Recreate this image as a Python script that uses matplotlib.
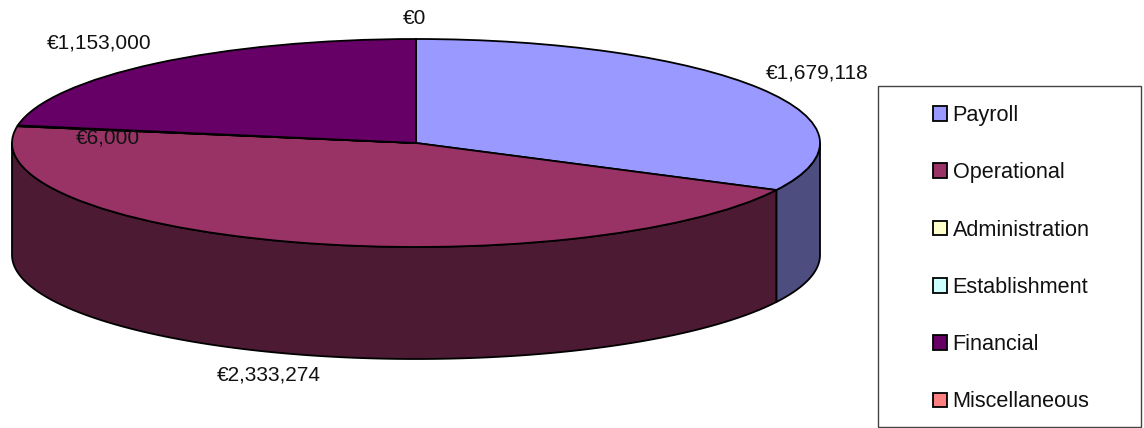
import numpy as np
import matplotlib
matplotlib.use('Agg')
import matplotlib.pyplot as plt
from matplotlib.patches import Rectangle

plt.rcParams['font.family'] = ['Liberation Sans', 'DejaVu Sans']

categories = ['Payroll', 'Operational', 'Administration', 'Establishment', 'Financial', 'Miscellaneous']
amounts = [1679118, 2333274, 0, 6000, 1153000, 0]
top_colors = ['#9999FF', '#993366', '#FFFFCC', '#CCFFFF', '#660066', '#FF8080']
side_colors = ['#4D4D80', '#4D1A33', '#808066', '#668080', '#330033', '#804040']

# label anchors in pixels, left edge and vertical centre
label_spots = {0: (766, 73), 1: (217, 375), 3: (76, 138), 4: (47, 43), 5: (403, 18)}

W, H = 1144, 428
CX, CY, RX, RY = 416, 143, 404, 104
DEPTH = 112 / RY


def fig_xy(px, py):
    return px / W, 1 - py / H


def draw_side(ax, start, end, color):
    # only the part of the rim facing the viewer is visible
    a = max(start, 90)
    b = min(end, 270)
    if b <= a:
        return
    t = np.radians(np.linspace(a, b, 120))
    x = np.sin(t)
    y = np.cos(t)
    ax.fill(np.r_[x, x[::-1]], np.r_[y, y[::-1] - DEPTH], facecolor=color,
            edgecolor='black', linewidth=1.3, joinstyle='round', zorder=1)


fig = plt.figure(figsize=(W / 100, H / 100), dpi=100)
ax = fig.add_axes([0, 0, 1, 1])

values = np.array(amounts, dtype=float)
edges = np.r_[0, np.cumsum(values)] / values.sum() * 360
for i in range(len(values)):
    draw_side(ax, edges[i], edges[i + 1], side_colors[i])

wedges, _ = ax.pie(values, colors=top_colors, startangle=90, counterclock=False,
                   wedgeprops={'edgecolor': 'black', 'linewidth': 1.3, 'zorder': 2})

# squash the round pie into the tilted ellipse
ax.set_aspect('auto')
ax.set_xlim(-CX / RX, (W - CX) / RX)
ax.set_ylim((CY - H) / RY, CY / RY)
ax.axis('off')

for i, (px, py) in label_spots.items():
    fx, fy = fig_xy(px, py)
    fig.text(fx, fy, f'€{amounts[i]:,}', fontsize=15, color='#111111', ha='left', va='center', zorder=5)

# legend box
x0, y0 = fig_xy(878, 427)
fig.add_artist(Rectangle((x0, y0), (1141 - 878) / W, (427 - 86) / H, transform=fig.transFigure,
                         facecolor='white', edgecolor='#444444', linewidth=1.0))

handles = [Rectangle((0, 0), 1, 1, facecolor=c, edgecolor='black', linewidth=1.3) for c in top_colors]
leg = fig.legend(handles, categories, loc='upper left', bbox_to_anchor=fig_xy(933, 105),
                 frameon=False, fontsize=15.6, borderpad=0, borderaxespad=0, labelcolor='#111111',
                 labelspacing=1.675, handlelength=0.66, handleheight=0.66, handletextpad=0.24)
leg.set_zorder(6)

fig.savefig('out.png', dpi=100)
